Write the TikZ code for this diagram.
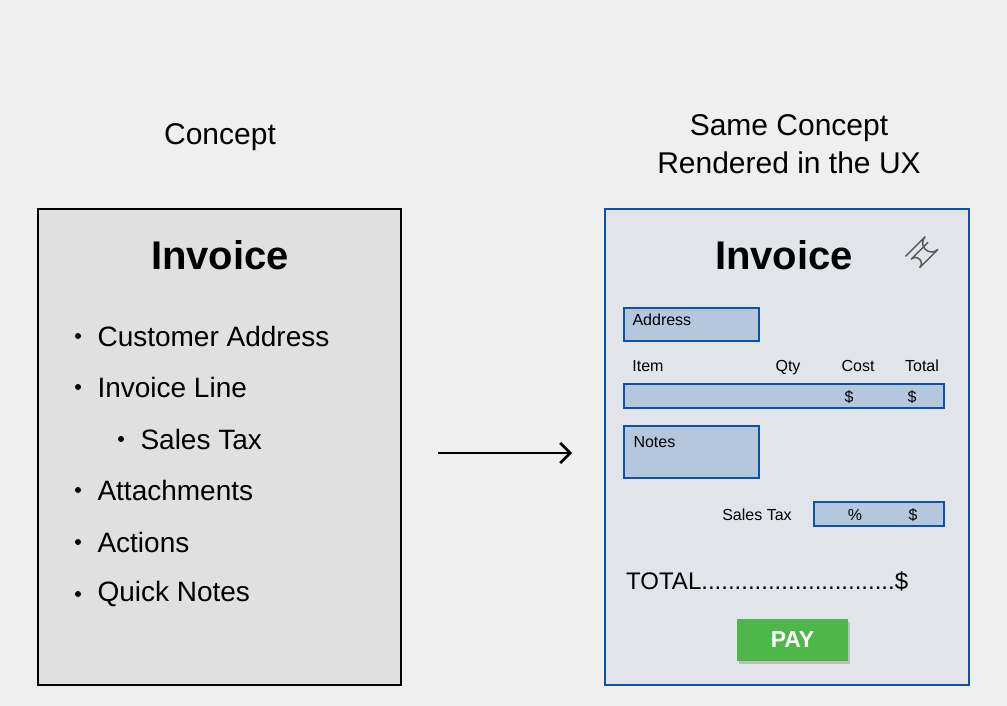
\documentclass[tikz,border=0pt]{standalone}
\usepackage{fontspec}
\setmainfont{Liberation Sans}
\usetikzlibrary{arrows.meta}
\definecolor{bg}{HTML}{EFEFEF}
\definecolor{lbox}{HTML}{E0E0E0}
\definecolor{rbox}{HTML}{E1E4E8}
\definecolor{bl}{HTML}{0C52A6}
\definecolor{fld}{HTML}{B5C7DC}
\definecolor{grn}{HTML}{4DB849}
\tikzset{
 field/.style={draw=bl,fill=fld,line width=2.2pt},
 lbl/.style={font=\fontsize{16}{18}\selectfont,anchor=base},
 item/.style={font=\fontsize{28}{32}\selectfont,anchor=west},
 dot/.style={circle,fill=black,inner sep=0pt,minimum size=6pt}
}
\begin{document}
\begin{tikzpicture}[x=1pt,y=-1pt]
\fill[bg] (0,0) rectangle (1007,706);
\useasboundingbox (0,0) rectangle (1007,706);
\node[font=\fontsize{30}{34}\selectfont] (c1) at (220,137) {Concept};
\node[font=\fontsize{30}{38}\selectfont,align=center] (c2) at (789,144) {Same Concept\\Rendered in the UX};
\draw[fill=lbox,line width=1.6pt] (38,209) rectangle (401,685);
\node[font=\bfseries\fontsize{40}{44}\selectfont] (t1) at (220,255) {Invoice};
\foreach \y/\t/\x in {336/Customer Address/78,387/Invoice Line/78,439/Sales Tax/121,490/Attachments/78,542/Actions/78,594/Quick Notes/78}{
 \node[dot] at (\x,\y) {};
 \node[item] at (\x+16,\y) {\t};
}
\coordinate (a1) at (438,453); \coordinate (a2) at (572,453);
\draw[line width=2.6pt,-{Straight Barb[length=10pt,width=20pt]}] (a1) -- (a2);
\draw[draw=bl,fill=rbox,line width=1.6pt] (605,209) rectangle (969,685);
\node[font=\bfseries\fontsize{40}{44}\selectfont] (t2) at (784,255) {Invoice};
\begin{scope}[shift={(921,255)},rotate=-45,draw=gray!70!black,line width=1.5pt]
\draw (-4,-14) -- (-4,10) arc(180:360:6) -- (8,-16) arc(0:180:9) -- (-10,12);
\end{scope}
\draw[field] (624,308) rectangle (759,341);
\node[lbl,anchor=base west] at (629,325) {Address};
\node[lbl] at (648,371) {Item};
\node[lbl] at (788,371) {Qty};
\node[lbl] at (858,371) {Cost};
\node[lbl] at (922,371) {Total};
\draw[field] (624,384) rectangle (944,408);
\node[lbl] at (849,402) {\$};
\node[lbl] at (912,402) {\$};
\draw[field] (624,426) rectangle (759,478);
\node[lbl,anchor=base west] at (630,447) {Notes};
\node[lbl] at (757,520) {Sales Tax};
\draw[field] (814,502) rectangle (944,526);
\node[lbl] at (855,520) {\%};
\node[lbl] at (913,520) {\$};
\node[font=\fontsize{24}{28}\selectfont,anchor=base west,inner sep=0pt] at (626,589) {TOTAL.............................\$};
\fill[black!25] (739,622) rectangle (850,664);
\node[fill=grn,minimum width=111pt,minimum height=42pt,text=white,font=\bfseries\fontsize{23}{26}\selectfont] (pay) at (792.5,640) {PAY};
\end{tikzpicture}
\end{document}
